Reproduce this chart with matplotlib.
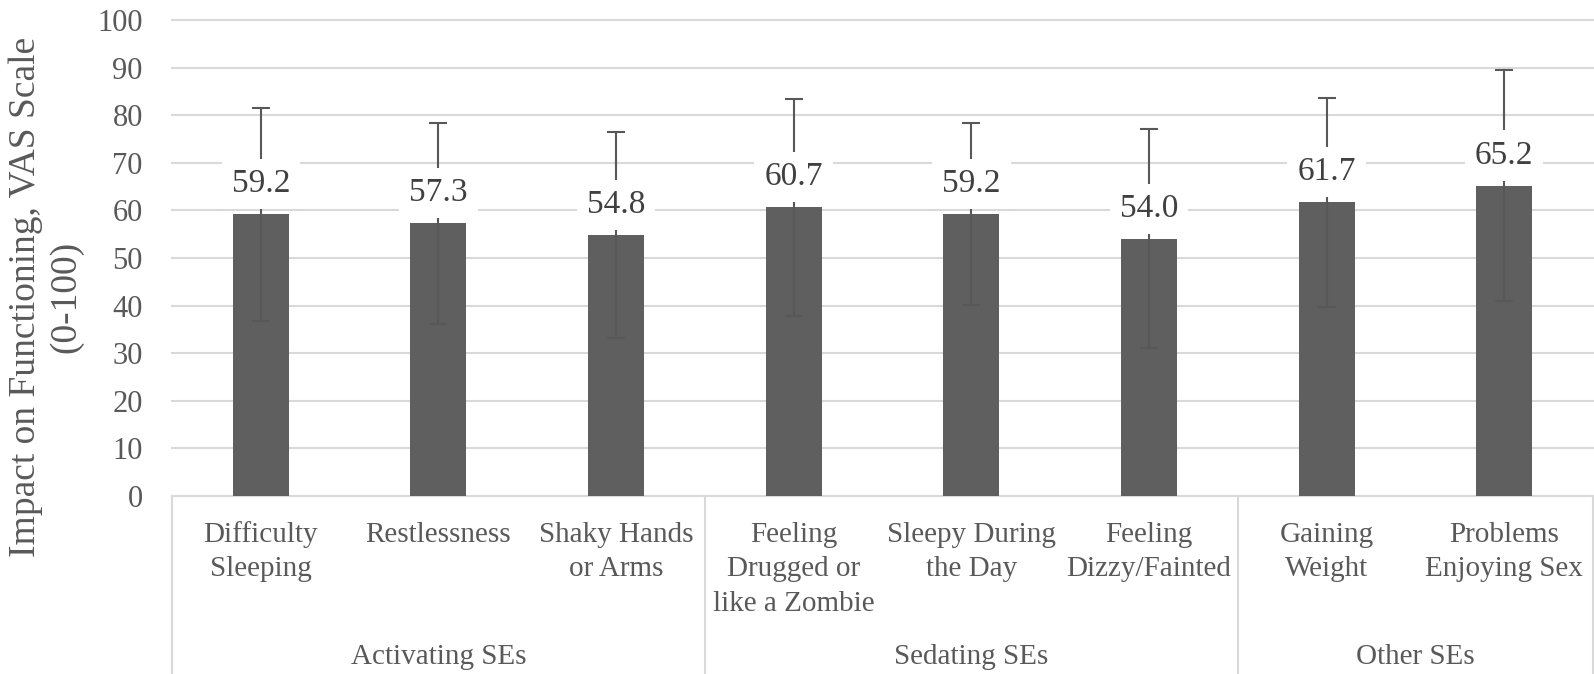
import matplotlib
matplotlib.use("Agg")
import matplotlib.pyplot as plt
from matplotlib.transforms import blended_transform_factory
from matplotlib.lines import Line2D

categories = ["Difficulty\nSleeping", "Restlessness", "Shaky Hands\nor Arms",
              "Feeling\nDrugged or\nlike a Zombie", "Sleepy During\nthe Day",
              "Feeling\nDizzy/Fainted", "Gaining\nWeight", "Problems\nEnjoying Sex"]
groups = ["Activating SEs", "Sedating SEs", "Other SEs"]
group_sizes = [3, 3, 2]
means = [59.2, 57.3, 54.8, 60.7, 59.2, 54.0, 61.7, 65.2]
sds = [22.4, 21.1, 21.6, 22.8, 19.1, 23.0, 22.0, 24.3]
yticks = [0, 10, 20, 30, 40, 50, 60, 70, 80, 90, 100]
ylabel = "Impact on Functioning, VAS Scale\n(0-100)"

W, H = 1594, 674
fig = plt.figure(figsize=(W / 100, H / 100), dpi=100)
plt.rcParams['font.family'] = ['Liberation Serif', 'DejaVu Serif']

ax_left, ax_right, ax_bottom, ax_top = 172, 1593, 496, 20
ax = fig.add_axes([ax_left / W, 1 - ax_bottom / H, (ax_right - ax_left) / W, (ax_bottom - ax_top) / H])

x = list(range(len(categories)))
GRID = "#d9d9d9"
TXT = "#595959"

ax.bar(x, means, width=0.315, color="#5f5f5f", zorder=2)
ax.errorbar(x, means, yerr=sds, fmt="none", ecolor="#585858", elinewidth=1.5,
            capsize=6.5, capthick=1.5, zorder=3)

for xi, m in zip(x, means):
    ax.annotate(f"{m:.1f}", xy=(xi, m), xytext=(0, 15.8), textcoords="offset points",
                ha="center", va="baseline", fontsize=24, color="#404040", zorder=5,
                bbox=dict(boxstyle="square,pad=0.3", fc="white", ec="none"))

ax.set_xlim(-0.5, len(categories) - 0.5)
ax.set_ylim(0, 100)
ax.set_yticks(yticks)
ax.set_yticklabels([str(t) for t in yticks], fontsize=22, color=TXT)
ax.tick_params(axis="y", length=0, pad=21)
ax.set_xticks([])
for s in ax.spines.values():
    s.set_visible(False)
ax.yaxis.grid(True, color=GRID, linewidth=1.5, zorder=0)
ax.set_axisbelow(True)
for gl in ax.get_ygridlines():
    gl.set_clip_on(False)

# category axis lines and labels
trans = blended_transform_factory(ax.transData, fig.transFigure)
bounds = [-0.5]
acc = -0.5
for n in group_sizes:
    acc += n
    bounds.append(acc)
for b in bounds:
    fig.add_artist(Line2D([b, b], [1 - ax_bottom / H, 0], transform=trans,
                          color=GRID, linewidth=1.5))

for xi, lab in zip(x, categories):
    for j, line in enumerate(lab.split("\n")):
        fig.text(xi, 1 - (542 + 34.5 * j) / H, line, transform=trans, ha="center",
                 va="baseline", fontsize=21, color=TXT)

start = 0
for g, n in zip(groups, group_sizes):
    cx = start + (n - 1) / 2
    fig.text(cx, 1 - 664 / H, g, transform=trans, ha="center", va="baseline",
             fontsize=21, color=TXT)
    start += n

fig.text(46 / W, 1 - 297 / H, ylabel, rotation=90, ha="center", va="center",
         multialignment="center", fontsize=27, color=TXT, linespacing=1.2)

fig.savefig("out.png", dpi=100, facecolor="white")
